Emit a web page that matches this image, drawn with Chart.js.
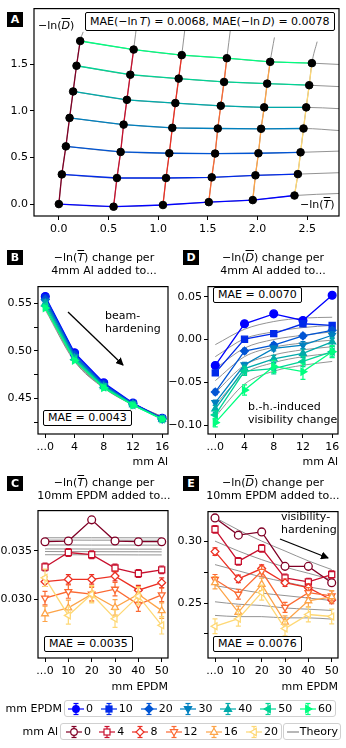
<!DOCTYPE html>
<html lang="en">
<head>
<meta charset="UTF-8">
<title>Beam hardening model check</title>
<script src="https://cdn.jsdelivr.net/npm/chart.js"></script>
<style>
  body { margin:0; width:346px; height:748px; position:relative; background:#fff; overflow:hidden;
         font-family:'DejaVu Sans', sans-serif; font-size:11px; color:#000; }
  canvas { position:absolute; z-index:1; }
  .txt { position:absolute; white-space:nowrap; line-height:13px; z-index:3; }
  .title { position:absolute; width:180px; text-align:center; line-height:13.4px; z-index:3; }
  .tag { position:absolute; width:16px; height:15px; background:#000; color:#fff; font-weight:bold;
         text-align:center; line-height:15px; z-index:3; }
  .mae { position:absolute; border:1.5px solid #000; background:#fff; padding:0 4px; line-height:14px;
         border-radius:2px; white-space:nowrap; z-index:3; }
  .ov { text-decoration:overline; font-style:italic; }
  .legend { position:absolute; border:1px solid #d0d0d0; border-radius:3px; background:#fff; height:17px;
            display:flex; align-items:center; justify-content:space-between; box-sizing:border-box; z-index:3; }
  .legend span.e { display:flex; align-items:center; }
  .legend svg { margin-right:1px; }
  #arrows { position:absolute; left:0; top:0; z-index:4; }
</style>
</head>
<body>

<!-- panel tags -->
<div class="tag" style="left:7px;top:12px">A</div>
<div class="tag" style="left:7px;top:250px">B</div>
<div class="tag" style="left:7px;top:476px">C</div>
<div class="tag" style="left:183px;top:250px">D</div>
<div class="tag" style="left:183px;top:476px">E</div>

<!-- panel A texts -->
<div class="mae" style="left:85px;top:12px;line-height:17px">MAE(−ln&thinsp;<i>T</i>) = 0.0068, MAE(−ln&thinsp;<i>D</i>) = 0.0078</div>
<div class="txt" style="left:38px;top:19px">−ln(<span class="ov">D</span>)</div>
<div class="txt" style="left:300px;top:198px">−ln(<span class="ov">T</span>)</div>

<!-- titles -->
<div class="title" style="left:14px;top:251px">−ln(<span class="ov">T</span>) change per<br>4mm Al added to...</div>
<div class="title" style="left:183px;top:251px">−ln(<span class="ov">D</span>) change per<br>4mm Al added to...</div>
<div class="title" style="left:14px;top:476px">−ln(<span class="ov">T</span>) change per<br>10mm EPDM added to...</div>
<div class="title" style="left:183px;top:476px">−ln(<span class="ov">D</span>) change per<br>10mm EPDM added to...</div>

<!-- annotations -->
<div class="txt" style="left:105px;top:309px">beam-<br>hardening</div>
<div class="mae" style="left:43px;top:410px">MAE = 0.0043</div>
<div class="mae" style="left:213px;top:287px">MAE = 0.0070</div>
<div class="txt" style="left:248px;top:400px">b.-h.-induced<br>visibility change</div>
<div class="mae" style="left:44px;top:636px">MAE = 0.0035</div>
<div class="txt" style="left:281px;top:510px">visibility-<br>hardening</div>
<div class="mae" style="left:213px;top:636px">MAE = 0.0076</div>

<!-- axis labels -->
<div class="txt" style="right:178px;top:455px">mm Al</div>
<div class="txt" style="right:8px;top:455px">mm Al</div>
<div class="txt" style="right:178px;top:680px">mm EPDM</div>
<div class="txt" style="right:8px;top:680px">mm EPDM</div>

<!-- legends -->
<div class="txt" style="right:284px;top:702px">mm EPDM</div>
<div class="legend" id="legEpdm" style="left:64px;top:700px;width:272px;padding:0 3px 0 2px"></div>
<div class="txt" style="right:288px;top:725px">mm Al</div>
<div class="legend" id="legAl" style="left:60px;top:723px;width:222px;padding:0 3px 0 4px"></div>
<div class="legend" style="left:283px;top:723px;width:58px;padding:0 2px 0 3px">
  <svg width="12" height="14"><line x1="0" y1="7" x2="12" y2="7" stroke="#888" stroke-width="1.2"/></svg>Theory
</div>

<svg id="arrows" width="346" height="748">
  <defs>
    <marker id="ah" markerWidth="8" markerHeight="8" refX="7" refY="4" orient="auto" markerUnits="userSpaceOnUse">
      <path d="M0,0 L8,4 L0,8 z" fill="#000"/>
    </marker>
  </defs>
  <line x1="68" y1="312" x2="123" y2="365" stroke="#000" stroke-width="1.3" marker-end="url(#ah)"/>
  <line x1="280" y1="539" x2="328" y2="558" stroke="#000" stroke-width="1.3" marker-end="url(#ah)"/>
</svg>

<script>
// ---------- data ----------
const epdm = [0, 10, 20, 30, 40, 50, 60];
const al = [0, 4, 8, 12, 16, 20];
const alSteps = [0, 4, 8, 12, 16];
const epdmSteps = [0, 10, 20, 30, 40, 50];

// panel A: -ln(T) and -ln(D) grid, rows = EPDM, columns = Al
const gridT = [
  [0.000, 0.551, 1.048, 1.509, 1.952, 2.372],
  [0.030, 0.585, 1.079, 1.539, 1.979, 2.406],
  [0.071, 0.622, 1.112, 1.573, 2.009, 2.433],
  [0.108, 0.652, 1.142, 1.600, 2.036, 2.463],
  [0.144, 0.685, 1.173, 1.630, 2.067, 2.490],
  [0.178, 0.719, 1.206, 1.663, 2.097, 2.520],
  [0.215, 0.753, 1.237, 1.691, 2.127, 2.547]
];
const gridD = [
  [0.000, -0.028, -0.010, 0.021, 0.043, 0.092],
  [0.319, 0.280, 0.280, 0.287, 0.309, 0.322],
  [0.620, 0.560, 0.546, 0.543, 0.546, 0.556],
  [0.926, 0.854, 0.819, 0.812, 0.809, 0.812],
  [1.210, 1.120, 1.085, 1.056, 1.039, 1.039],
  [1.486, 1.390, 1.348, 1.312, 1.294, 1.277],
  [1.752, 1.660, 1.600, 1.567, 1.528, 1.514]
];
// theory extensions beyond the measured grid
const rowEndT = 2.82;
const rowEndD = [0.114, 0.337, 0.569, 0.790, 1.025, 1.262, 1.500];
const colTopT = [0.245, 0.790, 1.280, 1.730, 2.170, 2.600];
const colTopD = [1.850, 1.980, 1.980, 1.900, 1.790, 1.745];

// panel B: -ln(T) change per 4mm Al
const stepTB = [
  [0.557, 0.498, 0.4665, 0.4452, 0.4292],
  [0.556, 0.497, 0.4655, 0.4448, 0.4290],
  [0.554, 0.4955, 0.4645, 0.4445, 0.4288],
  [0.552, 0.494, 0.4635, 0.4440, 0.4286],
  [0.550, 0.4925, 0.4625, 0.4437, 0.4285],
  [0.547, 0.491, 0.4618, 0.4433, 0.4284],
  [0.545, 0.490, 0.4612, 0.4430, 0.4283]
];
const errTB = [0.0015, 0.0015, 0.0015, 0.0018, 0.0018, 0.002, 0.002];
const theoTB = [
  [0.553, 0.494, 0.4640, 0.4450, 0.4310],
  [0.552, 0.493, 0.4635, 0.4447, 0.4308],
  [0.551, 0.4925, 0.4630, 0.4444, 0.4305],
  [0.549, 0.492, 0.4625, 0.4441, 0.4302],
  [0.547, 0.491, 0.4620, 0.4438, 0.4300],
  [0.545, 0.490, 0.4615, 0.4435, 0.4298],
  [0.543, 0.489, 0.4610, 0.4432, 0.4296]
];

// panel D: -ln(D) change per 4mm Al
const stepDB = [
  [-0.0303, 0.0184, 0.0300, 0.0223, 0.0517],
  [-0.0390, 0.0004, 0.0069, 0.0184, 0.0165],
  [-0.0613, -0.0134, -0.0065, 0.0042, 0.0108],
  [-0.0736, -0.0295, -0.0103, -0.0065, 0.0050],
  [-0.0810, -0.0340, -0.0226, -0.0161, -0.0027],
  [-0.0880, -0.0370, -0.0340, -0.0256, -0.0142],
  [-0.0970, -0.0590, -0.0314, -0.0375, -0.0142]
];
const errDB = [
  [0.002, 0.002, 0.002, 0.002, 0.002],
  [0.002, 0.002, 0.002, 0.003, 0.003],
  [0.003, 0.003, 0.003, 0.003, 0.003],
  [0.003, 0.003, 0.003, 0.004, 0.004],
  [0.004, 0.004, 0.004, 0.005, 0.005],
  [0.005, 0.005, 0.006, 0.006, 0.006],
  [0.005, 0.006, 0.007, 0.009, 0.007]
];
const theoDB = [
  [-0.006, 0.012, 0.021, 0.025, 0.026],
  [-0.020, 0.001, 0.009, 0.014, 0.0165],
  [-0.034, -0.010, 0.000, 0.005, 0.009],
  [-0.048, -0.020, -0.009, -0.004, -0.0007],
  [-0.062, -0.030, -0.018, -0.012, -0.0084],
  [-0.076, -0.040, -0.027, -0.020, -0.016],
  [-0.090, -0.052, -0.037, -0.030, -0.0256]
];

// panel C: -ln(T) change per 10mm EPDM
const stepTC = [
  [0.03595, 0.03602, 0.03822, 0.03602, 0.03595, 0.03595],
  [0.03333, 0.03483, 0.03460, 0.03322, 0.03265, 0.03303],
  [0.03180, 0.03204, 0.03204, 0.03238, 0.03092, 0.03170],
  [0.03010, 0.03078, 0.03051, 0.03102, 0.02942, 0.03044],
  [0.02847, 0.02908, 0.03050, 0.02914, 0.03050, 0.02880],
  [0.03220, 0.02830, 0.03050, 0.02796, 0.03030, 0.02727]
];
const errTC = [0.0003, 0.0004, 0.0005, 0.0007, 0.0008, 0.0009];
const theoTC = [
  [0.03636, 0.03636, 0.03636, 0.03636, 0.03636, 0.03636],
  [0.03612, 0.03612, 0.03611, 0.03611, 0.03610, 0.03610],
  [0.03561, 0.03561, 0.03560, 0.03560, 0.03560, 0.03559],
  [0.03520, 0.03520, 0.03519, 0.03519, 0.03518, 0.03518],
  [0.03493, 0.03492, 0.03492, 0.03491, 0.03491, 0.03490],
  [0.03460, 0.03460, 0.03459, 0.03459, 0.03458, 0.03458]
];

// panel E: -ln(D) change per 10mm EPDM
const stepDC = [
  [0.3187, 0.3048, 0.3074, 0.2796, 0.2796, 0.2664],
  [0.3095, 0.2836, 0.2941, 0.2703, 0.2670, 0.2730],
  [0.2915, 0.2695, 0.2778, 0.2664, 0.2624, 0.2524],
  [0.2690, 0.2571, 0.2756, 0.2465, 0.2584, 0.2558],
  [0.2664, 0.2425, 0.2651, 0.2346, 0.2518, 0.2550],
  [0.2312, 0.2373, 0.2584, 0.2294, 0.2407, 0.2391]
];
const errDC = [0.002, 0.003, 0.003, 0.004, 0.005, 0.006];
const theoDC = [
  [0.319, 0.309, 0.300, 0.292, 0.284, 0.277],
  [0.300, 0.292, 0.285, 0.279, 0.274, 0.269],
  [0.281, 0.276, 0.271, 0.267, 0.263, 0.260],
  [0.264, 0.261, 0.258, 0.256, 0.254, 0.252],
  [0.251, 0.249, 0.248, 0.246, 0.245, 0.244],
  [0.240, 0.239, 0.239, 0.238, 0.238, 0.237]
];

// ticks
const ticksAx = [0, 0.5, 1.0, 1.5, 2.0, 2.5];
const ticksAy = [0, 0.5, 1.0, 1.5];
const ticksStepAl = [0, 4, 8, 12, 16];
const ticksStepEpdm = [0, 10, 20, 30, 40, 50];
const ticksBy = [0.425, 0.45, 0.475, 0.50, 0.525, 0.55];
const ticksDy = [-0.10, -0.05, 0.00, 0.05];
const ticksCy = [0.030, 0.035];
const ticksEy = [0.225, 0.25, 0.275, 0.30];

// ---------- style ----------
const epdmColors = ['#0000ff', '#002aea', '#0055d4', '#0080bf', '#00aaaa', '#00d495', '#00ff80'];
const alColors = ['#800026', '#c8102e', '#ec3023', '#fb6a33', '#fda448', '#fed875'];
const markers = ['circle', 'rect', 'rectRot', 'triangle', 'triangle', 'triangle', 'triangle'];
const markerRot = [0, 0, 0, 180, 0, -90, 90];
const theoryColor = 'rgba(128,128,128,0.85)';

Chart.defaults.font.family = 'DejaVu Sans';
Chart.defaults.font.size = 11;
Chart.defaults.color = '#000';

const frame = {
  id: 'frame',
  afterDatasetsDraw(chart) {
    const { ctx, chartArea: a } = chart;
    ctx.save();
    ctx.strokeStyle = '#000';
    ctx.lineWidth = 1.2;
    ctx.strokeRect(a.left, a.top, a.right - a.left, a.bottom - a.top);
    ctx.restore();
  }
};

const errorBars = {
  id: 'errorBars',
  beforeDatasetDraw(chart, args) {
    const ds = chart.data.datasets[args.index];
    if (!ds.errs) return;
    const ctx = chart.ctx, ys = chart.scales.y;
    ctx.save();
    ctx.strokeStyle = ds.borderColor;
    ctx.lineWidth = 1.2;
    args.meta.data.forEach((pt, i) => {
      const v = ds.data[i].y, e = ds.errs[i];
      const y1 = ys.getPixelForValue(v - e), y2 = ys.getPixelForValue(v + e);
      ctx.beginPath();
      ctx.moveTo(pt.x, y1); ctx.lineTo(pt.x, y2);
      ctx.moveTo(pt.x - 2.5, y1); ctx.lineTo(pt.x + 2.5, y1);
      ctx.moveTo(pt.x - 2.5, y2); ctx.lineTo(pt.x + 2.5, y2);
      ctx.stroke();
    });
    ctx.restore();
  }
};

function axis(min, max, ticks, fmt, isX, size) {
  return {
    type: 'linear', min: min, max: max,
    afterBuildTicks: s => { s.ticks = ticks.map(v => ({ value: v })); },
    afterFit: s => { if (isX) s.height = size; else s.width = size; },
    grid: { display: true, drawOnChartArea: false, drawTicks: true, tickLength: 4, tickColor: '#000', tickWidth: 1 },
    border: { display: false },
    ticks: { color: '#000', padding: isX ? 3 : 2, autoSkip: false, maxRotation: 0,
             font: { family: 'DejaVu Sans', size: 11 }, callback: v => fmt(v) }
  };
}

function panel(box, xr, yr, xt, yt, xf, yf, datasets) {
  const padL = 44, padT = 6, padR = 8, padB = 28;
  const w = box.r - box.l + padL + padR, h = box.b - box.t + padT + padB;
  const cv = document.createElement('canvas');
  cv.width = w; cv.height = h;
  cv.style.left = (box.l - padL) + 'px';
  cv.style.top = (box.t - padT) + 'px';
  cv.style.width = w + 'px';
  cv.style.height = h + 'px';
  document.body.appendChild(cv);
  return new Chart(cv, {
    type: 'scatter',
    data: { datasets: datasets },
    options: {
      responsive: false, animation: false, devicePixelRatio: 1,
      layout: { padding: { top: padT, right: padR, left: 0, bottom: 0 } },
      plugins: { legend: { display: false }, tooltip: { enabled: false } },
      scales: { x: axis(xr[0], xr[1], xt, xf, true, padB), y: axis(yr[0], yr[1], yt, yf, false, padL) }
    },
    plugins: [frame, errorBars]
  });
}

function theoryLine(xs, ys) {
  return { data: xs.map((x, i) => ({ x: x, y: ys[i] })), showLine: true, pointRadius: 0,
           borderColor: theoryColor, borderWidth: 1, clip: 0, order: 50, cubicInterpolationMode: 'monotone' };
}

function seriesLine(xs, ys, errs, i, color, open) {
  return {
    data: xs.map((x, k) => ({ x: x, y: ys[k] })), errs: errs, showLine: true,
    borderColor: color, backgroundColor: color, borderWidth: 1.3,
    pointStyle: markers[i], pointRotation: markerRot[i], pointRadius: i === 1 ? 4.3 : 3.9,
    pointBackgroundColor: open ? '#fff' : color, pointBorderColor: color, pointBorderWidth: 1.3,
    order: 20 - i
  };
}

const fmtMinus = d => v => (v < 0 ? '−' : '') + Math.abs(v).toFixed(d);
const fmtStep = v => v === 0 ? '...0' : String(v);

// ---------- panel A ----------
const dsA = [];
gridT.forEach((row, r) => {
  dsA.push(theoryLine(row.concat([rowEndT]), gridD[r].concat([rowEndD[r]])));
});
al.forEach((a, c) => {
  dsA.push(theoryLine(gridT.map(row => row[c]).concat([colTopT[c]]),
                      gridD.map(row => row[c]).concat([colTopD[c]])));
});
gridT.forEach((row, r) => {
  dsA.push({ data: row.map((x, c) => ({ x: x, y: gridD[r][c] })), showLine: true, pointRadius: 0,
             borderColor: epdmColors[r], borderWidth: 1.3, order: 10 });
});
al.forEach((a, c) => {
  dsA.push({ data: gridT.map((row, r) => ({ x: row[c], y: gridD[r][c] })), showLine: true, pointRadius: 0,
             borderColor: alColors[c], borderWidth: 1.3, order: 9 });
});
dsA.push({ data: gridT.flatMap((row, r) => row.map((x, c) => ({ x: x, y: gridD[r][c] }))),
           pointRadius: 3.8, pointBackgroundColor: '#000', pointBorderColor: '#000', order: 0 });
panel({ l: 34, t: 6, r: 339, b: 216 }, [-0.25, 2.82], [-0.128, 2.1], ticksAx, ticksAy,
      v => v.toFixed(1), v => v.toFixed(1), dsA);

// ---------- panel B ----------
const dsB = [];
theoTB.forEach(t => dsB.push(theoryLine(alSteps, t)));
stepTB.forEach((s, i) => dsB.push(seriesLine(alSteps, s, s.map(() => errTB[i]), i, epdmColors[i], false)));
panel({ l: 38, t: 284, r: 168, b: 434 }, [-1, 16.8], [0.4128, 0.5674], ticksStepAl, ticksBy,
      fmtStep, v => (Math.round(v * 1000) % 50 === 0 ? v.toFixed(2) : ''), dsB);

// ---------- panel D ----------
const dsD = [];
theoDB.forEach(t => dsD.push(theoryLine(alSteps, t)));
stepDB.forEach((s, i) => dsD.push(seriesLine(alSteps, s, errDB[i], i, epdmColors[i], false)));
panel({ l: 208, t: 284, r: 338, b: 434 }, [-1, 16.8], [-0.1103, 0.0618], ticksStepAl, ticksDy,
      fmtStep, fmtMinus(2), dsD);

// ---------- panel C ----------
const dsC = [];
theoTC.forEach(t => dsC.push(theoryLine(epdmSteps, t)));
stepTC.forEach((s, i) => dsC.push(seriesLine(epdmSteps, s, s.map(() => errTC[i]), i, alColors[i], true)));
panel({ l: 38, t: 508, r: 168, b: 658 }, [-3, 52.7], [0.02388, 0.03918], ticksStepEpdm, ticksCy,
      fmtStep, v => v.toFixed(3), dsC);

// ---------- panel E ----------
const dsE = [];
theoDC.forEach(t => dsE.push(theoryLine(epdmSteps, t)));
stepDC.forEach((s, i) => dsE.push(seriesLine(epdmSteps, s, s.map(() => errDC[i]), i, alColors[i], true)));
panel({ l: 208, t: 509, r: 338, b: 658 }, [-3, 52.7], [0.2056, 0.3238], ticksStepEpdm, ticksEy,
      fmtStep, v => (Math.round(v * 1000) % 50 === 0 ? v.toFixed(2) : ''), dsE);

// ---------- legends ----------
function icon(i, color, open) {
  const rot = markerRot[i];
  let m;
  const fill = open ? '#fff' : color;
  if (markers[i] === 'circle') m = `<circle cx="9" cy="7" r="3.3"/>`;
  else if (markers[i] === 'rect') m = `<rect x="6" y="4" width="6" height="6"/>`;
  else if (markers[i] === 'rectRot') m = `<polygon points="9,3 13,7 9,11 5,7"/>`;
  else m = `<polygon points="9,3.2 12.6,9.3 5.4,9.3" transform="rotate(${rot} 9 7)"/>`;
  return `<svg width="18" height="14"><g stroke="${color}" stroke-width="1.2">` +
    `<line x1="1" y1="7" x2="17" y2="7"/><line x1="9" y1="1.5" x2="9" y2="12.5"/>` +
    `<line x1="6.5" y1="1.5" x2="11.5" y2="1.5"/><line x1="6.5" y1="12.5" x2="11.5" y2="12.5"/>` +
    `<g fill="${fill}">${m}</g></g></svg>`;
}
document.getElementById('legEpdm').innerHTML =
  epdm.map((v, i) => `<span class="e">${icon(i, epdmColors[i], false)}${v}</span>`).join('');
document.getElementById('legAl').innerHTML =
  al.map((v, i) => `<span class="e">${icon(i, alColors[i], true)}${v}</span>`).join('');
</script>
</body>
</html>
